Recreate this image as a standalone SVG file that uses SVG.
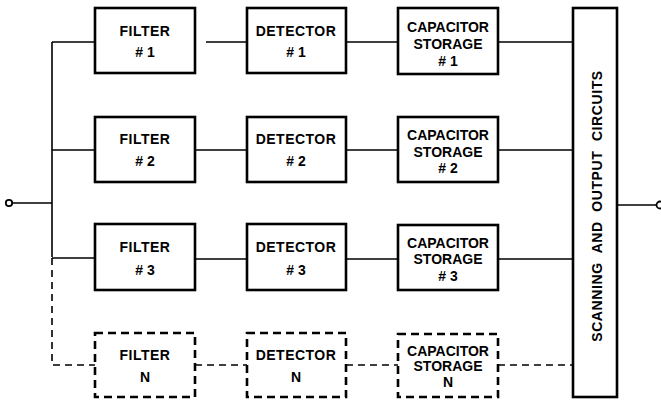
<svg xmlns="http://www.w3.org/2000/svg" width="661" height="400" viewBox="0 0 661 400">
<style>
.box{fill:#fff;stroke:#000;stroke-width:2.6}
.dbox{fill:#fff;stroke:#000;stroke-width:2.6;stroke-dasharray:8 5}
.ln{fill:none;stroke:#000;stroke-width:1.6}
.dln{fill:none;stroke:#000;stroke-width:1.6;stroke-dasharray:7 5}
text{font-family:"Liberation Sans",Arial,sans-serif;font-weight:bold;font-size:14px;text-anchor:middle;fill:#000}
.sp{letter-spacing:0.5px}
</style>
<rect width="661" height="400" fill="#fff"/>
<g id="connectors">
<circle cx="9" cy="203" r="3.2" fill="#fff" stroke="#000" stroke-width="1.8"/>
<path class="ln" d="M12 203H52M52 42V257M52 42H95M52 150H95M52 258H95"/>
<path class="dln" d="M52 258V365H95"/>
<path class="ln" d="M206 42H247M195 150H247M195 259H247"/>
<path class="ln" d="M346 42H398M346 150H398M346 259H398"/>
<path class="ln" d="M498 42H573M498 150H573M498 259H573"/>
<path class="dln" d="M195 365H247M346 365H398M498 365H573"/>
<path class="ln" d="M617 205H656"/>
<circle cx="660" cy="205" r="3.5" fill="#fff" stroke="#000" stroke-width="1.8"/>
</g>
<g id="filter1"><rect class="box" x="95" y="8" width="100" height="65"/><text class="sp" x="145" y="36">FILTER</text><text x="145" y="57"># 1</text></g>
<g id="detector1"><rect class="box" x="247" y="8" width="99" height="65"/><text class="sp" x="296" y="36">DETECTOR</text><text x="296" y="57"># 1</text></g>
<g id="capacitor1"><rect class="box" x="398" y="8" width="100" height="66"/><text x="448" y="32">CAPACITOR</text><text x="448" y="49">STORAGE</text><text x="448" y="66"># 1</text></g>
<g id="filter2"><rect class="box" x="95" y="117" width="100" height="65"/><text class="sp" x="145" y="144">FILTER</text><text x="145" y="166"># 2</text></g>
<g id="detector2"><rect class="box" x="247" y="117" width="99" height="65"/><text class="sp" x="296" y="144">DETECTOR</text><text x="296" y="166"># 2</text></g>
<g id="capacitor2"><rect class="box" x="398" y="117" width="100" height="65"/><text x="448" y="140">CAPACITOR</text><text x="448" y="157">STORAGE</text><text x="448" y="173"># 2</text></g>
<g id="filter3"><rect class="box" x="95" y="224" width="100" height="66"/><text class="sp" x="145" y="252">FILTER</text><text x="145" y="275"># 3</text></g>
<g id="detector3"><rect class="box" x="247" y="224" width="99" height="66"/><text class="sp" x="296" y="252">DETECTOR</text><text x="296" y="275"># 3</text></g>
<g id="capacitor3"><rect class="box" x="398" y="225" width="100" height="65"/><text x="448" y="248">CAPACITOR</text><text x="448" y="264">STORAGE</text><text x="448" y="281"># 3</text></g>
<g id="filterN"><rect class="dbox" x="95" y="333" width="100" height="64"/><text class="sp" x="145" y="360">FILTER</text><text x="145" y="382">N</text></g>
<g id="detectorN"><rect class="dbox" x="247" y="333" width="99" height="64"/><text class="sp" x="296" y="360">DETECTOR</text><text x="296" y="382">N</text></g>
<g id="capacitorN"><rect class="dbox" x="398" y="334" width="100" height="63"/><text x="448" y="356">CAPACITOR</text><text x="448" y="371">STORAGE</text><text x="448" y="387">N</text></g>
<g id="scanning"><rect class="box" x="573" y="8" width="44" height="389"/><text x="0" y="0" transform="translate(602 206) rotate(-90)" style="letter-spacing:0.6px;word-spacing:5px">SCANNING AND OUTPUT CIRCUITS</text></g>
</svg>
